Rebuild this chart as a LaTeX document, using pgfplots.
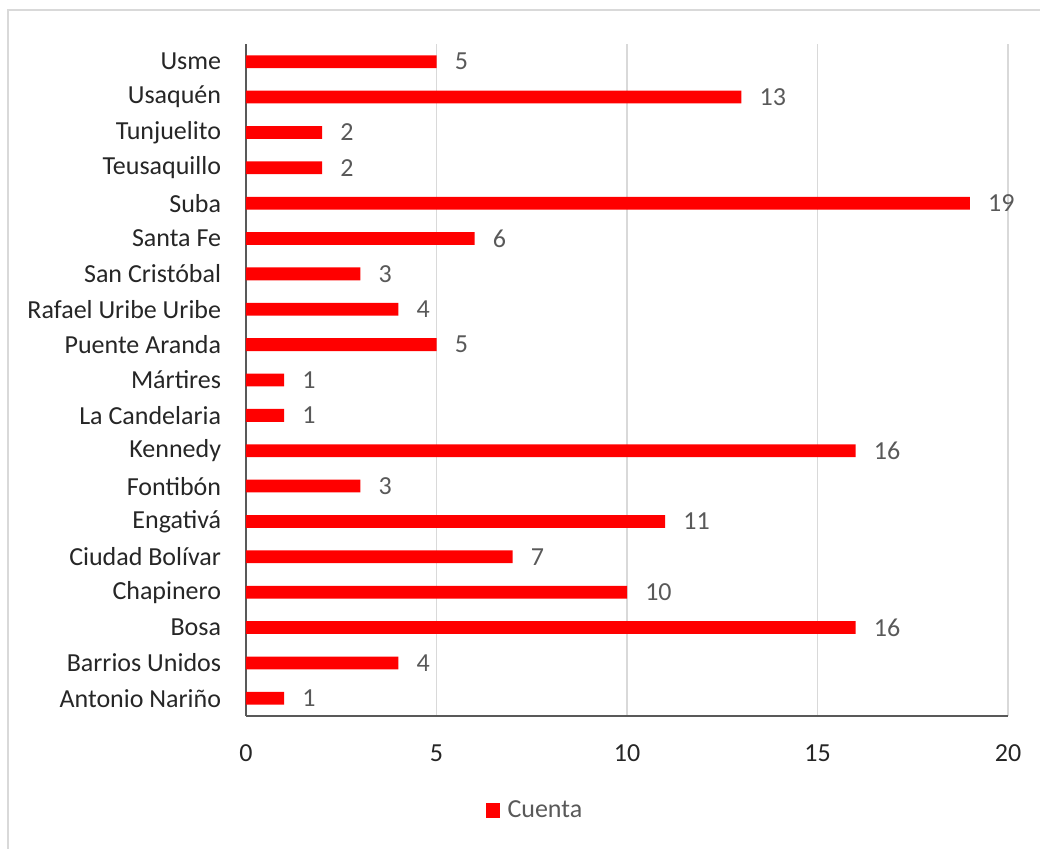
\documentclass[border=0pt]{standalone}
\usepackage{pgfplots}
\pgfplotsset{compat=1.18}
\usepackage{fontspec}
\setmainfont{Carlito}
\definecolor{barred}{HTML}{FF0000}
\definecolor{gridgray}{HTML}{D9D9D9}
\definecolor{axisgray}{HTML}{595959}
\definecolor{txt}{HTML}{262626}
\begin{document}
\fontsize{19.5pt}{22pt}\selectfont
\begin{tikzpicture}
\useasboundingbox (0pt,0pt) rectangle (780pt,636.75pt);
\draw[gridgray,line width=1.2pt] (6pt,0pt) -- (6pt,629.25pt) -- (780pt,629.25pt);
\begin{axis}[
  at={(184.5pt,99.75pt)}, anchor=south west,
  scale only axis,
  width=571.5pt, height=504pt,
  xbar, bar width=9.6pt,
  xmin=0, xmax=20,
  ymin=-0.5, ymax=18.5,
  xtick={0,5,10,15,20},
  ytick={0,...,18},
  yticklabels={Antonio Nariño,Barrios Unidos,Bosa,Chapinero,Ciudad Bolívar,Engativá,Fontibón,Kennedy,La Candelaria,Mártires,Puente Aranda,Rafael Uribe Uribe,San Cristóbal,Santa Fe,Suba,Teusaquillo,Tunjuelito,Usaquén,Usme},
  axis x line*=bottom, axis y line*=left,
  axis line style={axisgray,line width=1pt,-},
  major tick length=0pt,
  xmajorgrids, grid style={gridgray,line width=0.8pt},
  every tick label/.append style={font=\fontsize{19.5pt}{22pt}\selectfont, text=txt},
  yticklabel style={xshift=-12pt},
  xticklabel style={yshift=-15pt},
  /pgf/number format/assume math mode=true,
  nodes near coords,
  every node near coord/.append style={font=\fontsize{19.5pt}{22pt}\selectfont, text=axisgray, anchor=west, xshift=7pt},
  legend style={at={(0.38,-0.141)}, anchor=center, draw=none, fill=none,
    font=\fontsize{19.5pt}{22pt}\selectfont, text=axisgray},
  legend image code/.code={\fill[barred] (0pt,-5.5pt) rectangle (10pt,5.5pt); \path (14pt,0pt);},
]
\addplot[fill=barred, draw=none] coordinates {
(1,0) (4,1) (16,2) (10,3) (7,4) (11,5) (3,6) (16,7) (1,8) (1,9)
(5,10) (4,11) (3,12) (6,13) (19,14) (2,15) (2,16) (13,17) (5,18)};
\addlegendentry{Cuenta}
\end{axis}
\end{tikzpicture}
\end{document}
